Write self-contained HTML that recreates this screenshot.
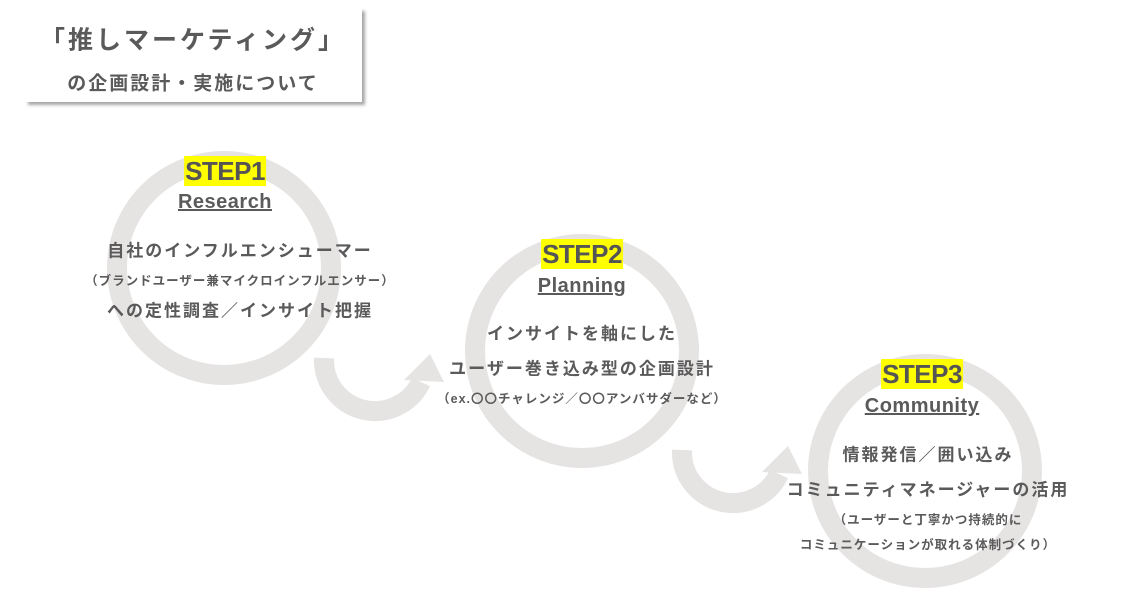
<!DOCTYPE html>
<html><head><meta charset="utf-8"><style>
body{margin:0;width:1132px;height:614px;background:#fff;position:relative;overflow:hidden;font-family:"Liberation Sans","Noto Sans CJK JP",sans-serif;color:#5a5a5a;font-weight:bold}
.t{position:absolute;white-space:nowrap;transform:translate(-50%,-50%);letter-spacing:2px;line-height:1}
.step{background:#ffff00;font-size:26px;letter-spacing:-0.5px;padding:2px 1px;color:#555}
.sub{font-size:20px;text-decoration:underline;letter-spacing:0.5px}
.b{font-size:17px}
.s{font-size:12.5px;letter-spacing:1px}
.box{position:absolute;left:25px;top:8px;width:337px;height:94px;background:#fff;box-shadow:3px 3px 3px rgba(0,0,0,.35)}
</style></head><body>
<svg width="1132" height="614" style="position:absolute;left:0;top:0">
<g fill="none" stroke="#e6e3e3" stroke-width="20">
<circle cx="224" cy="268" r="107"/>
<circle cx="582" cy="351" r="107"/>
<circle cx="925" cy="471" r="107"/>
<path d="M324 358 A51 51 0 0 0 421 382"/>
<path d="M682 450 A51 51 0 0 0 779 474"/>
</g>
<g fill="#e6e3e3">
<polygon points="404,380 430,354 444,382"/>
<polygon points="762,472 788,446 802,474"/>
</g>
</svg>
<div class="box"></div>
<div class="t" style="left:193px;top:41px;font-size:25px;letter-spacing:3px">「推しマーケティング」</div>
<div class="t" style="left:193px;top:84px;font-size:19px;letter-spacing:2px">の企画設計・実施について</div>

<div class="t step" style="left:225px;top:171px">STEP1</div>
<div class="t sub" style="left:225px;top:202px">Research</div>
<div class="t b" style="left:240px;top:251px">自社のインフルエンシューマー</div>
<div class="t s" style="left:240px;top:281px">（ブランドユーザー兼マイクロインフルエンサー）</div>
<div class="t b" style="left:240px;top:311px">への定性調査／インサイト把握</div>

<div class="t step" style="left:582px;top:254px">STEP2</div>
<div class="t sub" style="left:582px;top:286px">Planning</div>
<div class="t b" style="left:582px;top:334px">インサイトを軸にした</div>
<div class="t b" style="left:582px;top:369px">ユーザー巻き込み型の企画設計</div>
<div class="t s" style="left:582px;top:399px">（ex.〇〇チャレンジ／〇〇アンバサダーなど）</div>

<div class="t step" style="left:922px;top:374px">STEP3</div>
<div class="t sub" style="left:922px;top:406px">Community</div>
<div class="t b" style="left:928px;top:455px">情報発信／囲い込み</div>
<div class="t b" style="left:928px;top:490px">コミュニティマネージャーの活用</div>
<div class="t s" style="left:928px;top:520px">（ユーザーと丁寧かつ持続的に</div>
<div class="t s" style="left:928px;top:545px">コミュニケーションが取れる体制づくり）</div>
</body></html>
